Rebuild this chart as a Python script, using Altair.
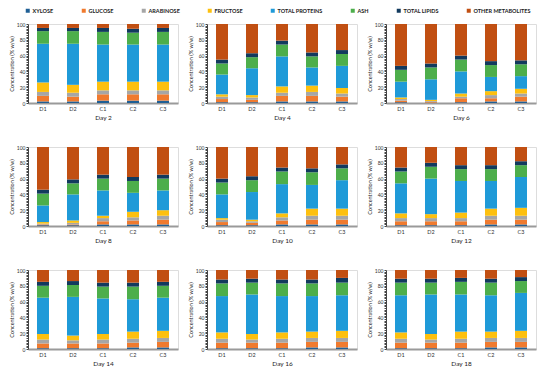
import altair as alt
import pandas as pd

components = ["XYLOSE", "GLUCOSE", "ARABINOSE", "FRUCTOSE",
              "TOTAL PROTEINS", "ASH", "TOTAL LIPIDS", "OTHER METABOLITES"]
colors = ["#1F5F95", "#F07A2E", "#A6A6A6", "#FDC00F",
          "#1F9AD8", "#4DAE4B", "#123A5E", "#C14F12"]
samples = ["D1", "D2", "C1", "C2", "C3"]
days = [2, 4, 6, 8, 10, 12, 14, 16, 18]

# values per sample (D1, D2, C1, C2, C3), components in legend order
day_2 = [[2, 7, 5, 12, 49, 16, 4, 5], [2, 6, 5, 10, 52, 16, 4, 5],
         [3, 8, 5, 11, 47, 16, 5, 5], [3, 8, 5, 11, 47, 15, 5, 6],
         [3, 8, 5, 11, 47, 16, 5, 5]]
day_4 = [[1, 4, 3, 3, 25, 14, 5, 45], [1, 3, 3, 3, 34, 14, 5, 37],
         [2, 7, 4, 8, 38, 15, 5, 21], [2, 7, 5, 8, 23, 14, 5, 36],
         [2, 6, 4, 7, 28, 15, 5, 33]]
day_6 = [[1, 2, 2, 2, 20, 15, 5, 53], [0.5, 1, 1, 1.5, 26, 15, 5, 50],
         [1, 5, 2, 4, 28, 15, 5, 40], [2, 4, 4, 5, 18, 15, 5, 47],
         [2, 6, 4, 6, 16, 15, 5, 46]]
day_8 = [[1, 1, 1, 2, 21, 15, 5, 54], [1, 1, 2, 3, 33, 14, 5, 41],
         [2, 4, 4, 3, 32, 15, 5, 35], [2, 5, 4, 7, 24, 15, 5, 38],
         [2, 6, 5, 7, 25, 15, 5, 35]]
day_10 = [[1, 4, 3, 2, 30, 15, 5, 40], [1, 3, 2, 2, 35, 15, 5, 37],
          [2, 5, 4, 5, 37, 16, 5, 26], [2, 6, 5, 9, 30, 16, 5, 27],
          [2, 6, 5, 9, 36, 15, 5, 22]]
day_12 = [[1, 5, 4, 6, 38, 15, 5, 26], [1, 5, 4, 5, 45, 15, 5, 20],
          [1, 5, 4, 7, 40, 15, 5, 23], [2, 6, 5, 9, 35, 15, 5, 23],
          [2, 6, 5, 10, 39, 15, 5, 18]]
day_14 = [[1, 6, 5, 7, 46, 15, 5, 15], [1, 6, 4, 6, 49, 15, 5, 14],
          [1, 6, 5, 7, 45, 15, 5, 16], [2, 6, 5, 9, 41, 16, 5, 16],
          [2, 7, 5, 9, 42, 15, 5, 15]]
day_16 = [[1, 7, 5, 8, 46, 16, 5, 12], [1, 7, 4, 7, 50, 15, 5, 11],
          [1, 7, 5, 8, 46, 16, 5, 12], [2, 7, 5, 8, 45, 16, 5, 12],
          [2, 7, 5, 9, 45, 16, 6, 10]]
day_18 = [[1, 7, 5, 8, 47, 16, 5, 11], [1, 7, 4, 7, 50, 15, 5, 11],
          [1, 7, 5, 9, 47, 16, 5, 10], [2, 7, 5, 8, 46, 16, 5, 11],
          [2, 7, 5, 9, 48, 15, 5, 9]]

all_days = [day_2, day_4, day_6, day_8, day_10, day_12, day_14, day_16, day_18]

FONT = "Lato"
W, H = 150, 79


def panel(day, table, first):
    rows = []
    for s, vals in zip(samples, table):
        for i, (c, v) in enumerate(zip(components, vals)):
            rows.append({"sample": s, "component": c, "value": v, "idx": i})
    df = pd.DataFrame(rows)
    legend = None
    if first:
        legend = alt.Legend(orient="none", legendX=-3, legendY=-16,
                            direction="horizontal", columns=8,
                            gridAlign="none", columnPadding=27,
                            symbolType="square", symbolSize=16,
                            symbolStrokeWidth=0, labelFontSize=5.5,
                            labelFontWeight="bold", labelFont=FONT,
                            labelColor="#222", labelOffset=2, title=None)
    return alt.Chart(df).mark_bar(size=12).encode(
        x=alt.X("sample:N", sort=samples, title=f"Day {day}",
                axis=alt.Axis(labelAngle=0, ticks=False, domainColor="#9a9a9a",
                              domainWidth=2, labelFontSize=5.5,
                              titleFontSize=6.5, titleFontWeight="normal",
                              labelPadding=3, titlePadding=3,
                              labelColor="#333", titleColor="#222")),
        y=alt.Y("value:Q", stack="zero",
                scale=alt.Scale(domain=[0, 100], nice=False),
                title="Concentration (% w/w)",
                axis=alt.Axis(values=list(range(0, 101, 2)),
                              labelExpr="datum.value % 20 == 0 ? datum.value : ''",
                              tickSize=2, labelFontSize=5, titleFontSize=5.5,
                              titleFontWeight="normal", labelPadding=1,
                              titlePadding=2, grid=False, domainColor="#444",
                              tickColor="#444", labelColor="#333",
                              titleColor="#222", labelOverlap=False)),
        color=alt.Color("component:N", scale=alt.Scale(domain=components, range=colors),
                        legend=legend),
        order=alt.Order("idx:Q", sort="ascending"),
    ).properties(width=W, height=H)


charts = [panel(d, t, i == 0) for i, (d, t) in enumerate(zip(days, all_days))]
rows = [alt.hconcat(*charts[i:i + 3], spacing=8) for i in range(0, 9, 3)]
chart = alt.vconcat(*rows, spacing=22).configure_view(stroke=None).configure(
    font=FONT, padding=0)

chart.save("out.html", embed_options={"renderer": "svg", "actions": False})
